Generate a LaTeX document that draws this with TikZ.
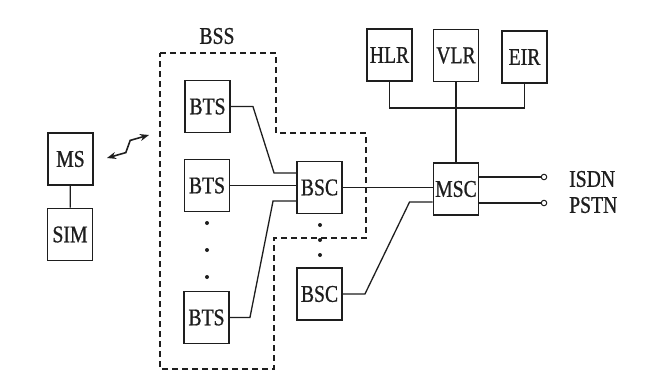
\documentclass[tikz,border=0pt]{standalone}
\usepackage{fontspec}
\setmainfont[FakeStretch=0.82,FakeBold=0.8]{Liberation Serif}
\usepackage{tikz}
\usetikzlibrary{arrows.meta,positioning,calc}
\definecolor{ink}{HTML}{1E1E1E}
\tikzset{
  unit/.style={draw=ink,line width=1.9pt,minimum width=45pt,minimum height=52pt,
               inner sep=0pt,font=\fontsize{24}{26}\selectfont,text=ink},
  wire/.style={draw=ink,line width=1.3pt},
  bssline/.style={draw=ink,line width=1.4pt,dash pattern=on 6pt off 4pt},
  dot/.style={circle,fill=ink,inner sep=0pt,minimum size=4pt},
  term/.style={circle,draw=ink,line width=1pt,fill=white,inner sep=0pt,minimum size=5.5pt},
  tag/.style={font=\fontsize{24}{26}\selectfont,text=ink,inner sep=0pt},
  radioarr/.style={{Stealth[length=9pt,width=7pt]}-{Stealth[length=9pt,width=7pt]},
                   line width=1.6pt,draw=ink}
}
\begin{document}
\begin{tikzpicture}[x=1pt,y=-1pt]
    \path[use as bounding box,fill=white] (0,0) rectangle (667,388);
    % mobile station
    \node[unit] (ms) at (70.5,159) {MS};
    \node[unit] (sim) at (70,234.5) {SIM};
    \draw[wire] (ms) -- (sim);
    \coordinate (radioA) at (107,158);
    \coordinate (radioB) at (149,135);
    \draw[radioarr] (radioA) -- ($(radioA)!0.40!(radioB)+(2,3.8)$)
      -- ($(radioA)!0.60!(radioB)+(-2,-3.8)$) -- (radioB);

    % base station subsystem
    \node[tag] (bsslabel) at (217,36) {BSS};
    \draw[bssline] (160,53) -- (276,53) -- (276,133) -- (366,133) -- (366,238)
      -- (274,238) -- (274,369) -- (160,369) -- cycle;
    \node[unit] (bts1) at (207.5,106.5) {BTS};
    \node[unit] (bts2) at (207,185.5) {BTS};
    \node[unit] (bts3) at (206.5,317.5) {BTS};
    \foreach \y [count=\i] in {223,250,277}
      \node[dot] (btsdot\i) at (207,\y) {};
    \node[unit] (bsc1) at (319.5,187.5) {BSC};
    \node[unit] (bsc2) at (319.5,294) {BSC};
    \foreach \y [count=\i] in {225,240,255}
      \node[dot] (bscdot\i) at (320,\y) {};
    \draw[wire] (bts1.east) -- ++(22,0) -- ($(bsc1.west)+(-22,-14.5)$)
      -- ($(bsc1.west)+(0,-14.5)$);
    \draw[wire] (bts2.east) -- (bts2.east -| bsc1.west);
    \draw[wire] (bts3.east) -- ++(20,0) -- ($(bsc1.west)+(-23,13.5)$)
      -- ($(bsc1.west)+(0,13.5)$);

    % network subsystem
    \node[unit] (msc) at (456,189) {MSC};
    \node[unit] (hlr) at (389.5,55) {HLR};
    \node[unit] (vlr) at (456,55.5) {VLR};
    \node[unit] (eir) at (524.5,57) {EIR};
    \draw[wire] (bsc1.east) -- (bsc1.east -| msc.west);
    \draw[wire] (bsc2.east) -- ++(22,0) -- ($(msc.west)+(-23,13)$)
      -- ($(msc.west)+(0,13)$);
    \draw[wire] (hlr.south) -- ++(0,26) -| (eir.south);
    \draw[wire] (vlr.south) -- (msc.north);

    \node[term] (isdn) at (544,177) {};
    \node[term] (pstn) at (544,203) {};
    \draw[wire] (msc.east |- isdn) -- (isdn);
    \draw[wire] (msc.east |- pstn) -- (pstn);
    \node[tag,anchor=west] (isdnlabel) at (569,179) {ISDN};
    \node[tag,anchor=west] (pstnlabel) at (569,205) {PSTN};
\end{tikzpicture}
\end{document}
